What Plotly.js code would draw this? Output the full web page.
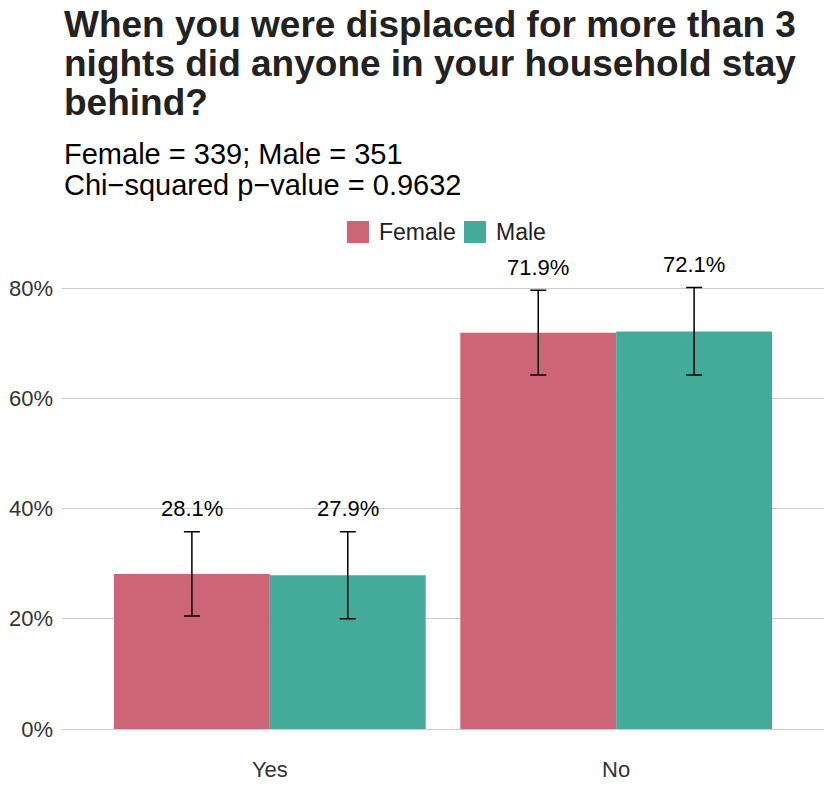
<!DOCTYPE html>
<html>
<head>
<meta charset="utf-8">
<script src="https://cdn.plot.ly/plotly-3.0.1.min.js"></script>
<style>
  body { margin: 0; background: white; }
  #chart { width: 830px; height: 805px; }
</style>
</head>
<body>
<div id="chart"></div>
<script>
// Displacement survey: did anyone stay behind? (by gender)
const categories = ['Yes', 'No'];
const groups = ['Female', 'Male'];
const groupColors = ['#CC6677', '#44AA99'];
const femalePct = [28.1, 71.9];
const malePct = [27.9, 72.1];
// 95% confidence bounds
const femaleLow = [20.5, 64.2];
const femaleHigh = [35.8, 79.6];
const maleLow = [20.0, 64.2];
const maleHigh = [35.8, 80.1];
const yTicks = [0, 20, 40, 60, 80];
const yTickText = ['0%', '20%', '40%', '60%', '80%'];

const titleLines = [
  'When you were displaced for more than 3',
  'nights did anyone in your household stay',
  'behind?'
];
const subtitleLines = [
  'Female = 339; Male = 351',
  'Chi\u2212squared p\u2212value = 0.9632'
];

const FONT = '"Liberation Sans", Arial, sans-serif';
const W = 830, H = 805;
const M = { l: 62, r: 6, t: 250, b: 76 };
const plotW = W - M.l - M.r, plotH = H - M.t - M.b;
// pixel -> paper helpers for the header block
const px = x => (x - M.l) / plotW;
const py = y => (H - M.b - y) / plotH;

function errBar(vals, lo, hi) {
  return {
    type: 'data',
    symmetric: false,
    array: vals.map((v, i) => hi[i] - v),
    arrayminus: vals.map((v, i) => v - lo[i]),
    color: 'black',
    thickness: 1.5,
    width: 8
  };
}

const female = {
  type: 'bar',
  name: groups[0],
  x: categories,
  y: femalePct,
  marker: { color: groupColors[0] },
  error_y: errBar(femalePct, femaleLow, femaleHigh),
  hoverinfo: 'skip'
};
const male = {
  type: 'bar',
  name: groups[1],
  x: categories,
  y: malePct,
  marker: { color: groupColors[1] },
  error_y: errBar(malePct, maleLow, maleHigh),
  hoverinfo: 'skip'
};

const annotations = [];
const shapes = [];
// value labels above the error bars
[[femalePct, femaleHigh, -0.225], [malePct, maleHigh, 0.225]].forEach(([vals, hi, off]) => {
  vals.forEach((v, i) => {
    annotations.push({
      x: i + off, y: hi[i], xref: 'x', yref: 'y',
      text: v.toFixed(1) + '%', showarrow: false,
      yanchor: 'middle', yshift: 23,
      font: { family: FONT, size: 22, color: 'black' }
    });
  });
});

// title and subtitle, one annotation per line
function headerLine(text, baseline, size, color) {
  annotations.push({
    xref: 'paper', yref: 'paper', x: 0, xanchor: 'left',
    y: py(baseline), yanchor: 'bottom', yshift: -Math.round(0.3 * size),
    text: text, showarrow: false,
    font: { family: FONT, size: size, color: color }
  });
}
const titleBase = [36, 75, 114];
titleLines.forEach((t, i) => headerLine('<b>' + t + '</b>', titleBase[i], 37, '#222222'));
const subBase = [163, 194];
subtitleLines.forEach((t, i) => headerLine(t, subBase[i], 29, 'black'));

// legend, drawn by hand so the keys are full-size squares
const legendKeys = [347, 464];
const legendText = [379, 496];
groups.forEach((g, i) => {
  shapes.push({
    type: 'rect', xref: 'paper', yref: 'paper',
    x0: px(legendKeys[i]), x1: px(legendKeys[i] + 22),
    y0: py(243), y1: py(221),
    fillcolor: groupColors[i], line: { width: 0 }
  });
  annotations.push({
    xref: 'paper', yref: 'paper', x: px(legendText[i] - 2), xanchor: 'left',
    y: py(232), yanchor: 'middle',
    text: g, showarrow: false,
    font: { family: FONT, size: 23, color: '#222222' }
  });
});

const layout = {
  width: W,
  height: H,
  margin: { l: M.l, r: M.r, t: M.t, b: M.b, pad: 0 },
  paper_bgcolor: 'white',
  plot_bgcolor: 'white',
  font: { family: FONT, size: 22, color: '#333333' },
  barmode: 'group',
  bargap: 0.1,
  bargroupgap: 0,
  showlegend: false,
  xaxis: {
    type: 'category',
    range: [-0.6, 1.6],
    showgrid: false,
    showline: false,
    zeroline: false,
    ticks: '',
    ticklabelstandoff: 25,
    tickfont: { family: FONT, size: 22, color: '#333333' }
  },
  yaxis: {
    range: [0, 86.9],
    tickvals: yTicks,
    ticktext: yTickText,
    showgrid: true,
    gridcolor: '#CCCCCC',
    gridwidth: 1,
    zeroline: true,
    zerolinecolor: '#CCCCCC',
    zerolinewidth: 1,
    showline: false,
    ticks: '',
    ticklabelstandoff: 8,
    tickfont: { family: FONT, size: 22, color: '#333333' }
  },
  shapes: shapes,
  annotations: annotations
};

Plotly.newPlot('chart', [female, male], layout, { displayModeBar: false, staticPlot: true });
</script>
</body>
</html>
